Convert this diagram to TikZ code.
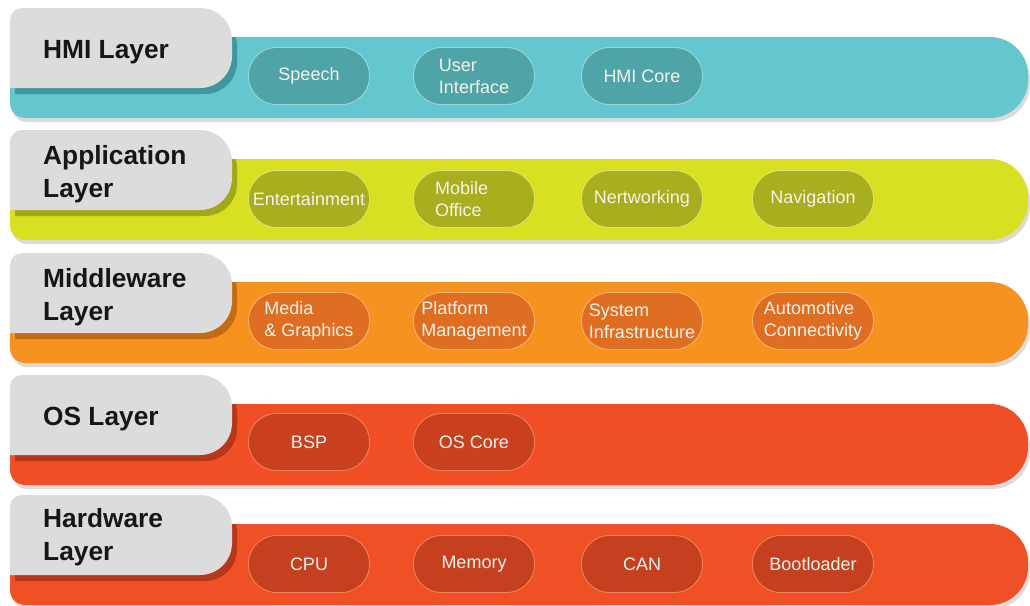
\documentclass[tikz,border=0pt]{standalone}
\usepackage{fontspec}
\setmainfont{Liberation Sans}

\definecolor{tabgray}{HTML}{DCDCDC}
\definecolor{titletext}{HTML}{161616}
\definecolor{pilltext}{HTML}{F4F4EC}
% HMI layer
\definecolor{hmiband}{HTML}{64C6CE}
\definecolor{hmipill}{HTML}{4FA4A8}
\definecolor{hmidark}{HTML}{3E979D}
\definecolor{hmiedge}{HTML}{98D6D8}
% Application layer
\definecolor{appband}{HTML}{D8E021}
\definecolor{apppill}{HTML}{A8AE1E}
\definecolor{appdark}{HTML}{A2A818}
\definecolor{appedge}{HTML}{DCE26A}
% Middleware layer
\definecolor{midband}{HTML}{F6921F}
\definecolor{midpill}{HTML}{E06E22}
\definecolor{middark}{HTML}{C26A14}
\definecolor{midedge}{HTML}{F7B266}
% OS layer
\definecolor{osband}{HTML}{F04E24}
\definecolor{ospill}{HTML}{C8401E}
\definecolor{osdark}{HTML}{B5381A}
\definecolor{osedge}{HTML}{F2805A}
% Hardware layer
\definecolor{hwband}{HTML}{F05026}
\definecolor{hwpill}{HTML}{C5401E}
\definecolor{hwdark}{HTML}{B3391A}
\definecolor{hwedge}{HTML}{F2805A}

\newcommand{\pillfont}{\fontsize{18}{22}\selectfont}
\newcommand{\titlefont}{\fontsize{26.3}{33}\selectfont\bfseries}

% coloured band of one layer, #1 = top of the grey tab
\newcommand{\bandshape}[1]{(25,#1+29) -- (990,#1+29)
  arc[start angle=270,end angle=360,radius=38] -- (1028,#1+72)
  arc[start angle=0,end angle=90,radius=38] -- (25,#1+110)
  arc[start angle=90,end angle=180,radius=15] -- (10,#1+44)
  arc[start angle=180,end angle=270,radius=15] -- cycle}
% grey title tab of one layer
\newcommand{\tabshape}[1]{(10,#1+80) -- (10,#1+12)
  arc[start angle=180,end angle=270,radius=12] -- (200,#1)
  arc[start angle=270,end angle=360,radius=32] -- (232,#1+48)
  arc[start angle=0,end angle=90,radius=32] -- cycle}

% band, tab shadow and tab: #1 top, #2 band colour, #3 shadow colour
\newcommand{\layerbase}[3]{%
  \fill[black!14, shift={(2,4)}] \bandshape{#1};
  \fill[#2] \bandshape{#1};
  \begin{scope}
    \clip \bandshape{#1};
    \fill[#3, shift={(5,6)}] \tabshape{#1};
  \end{scope}
  \fill[tabgray] \tabshape{#1};
}

\begin{document}
\begin{tikzpicture}[x=1pt,y=-1pt,
  title/.style={anchor=west, align=left, font=\titlefont, text=titletext, inner sep=0pt},
  pill/.style={line width=0.9pt, rounded corners=28pt, minimum width=121pt,
    minimum height=57pt, inner sep=1pt, text=pilltext, font=\pillfont, align=left}]
\useasboundingbox (0,0) rectangle (1030,605);
\clip (0,0) rectangle (1030,605);

% ---- HMI layer
\layerbase{8}{hmiband}{hmidark}
\node[title] (hmi) at (43,52) {HMI Layer};
\node[pill, fill=hmipill, draw=hmiedge] (speech) at (309,76) {Speech};
\node[pill, fill=hmipill, draw=hmiedge] (ui) at (474,76) {User\\Interface};
\node[pill, fill=hmipill, draw=hmiedge] (hmicore) at (642,76) {HMI Core};

% ---- Application layer
\layerbase{130}{appband}{appdark}
\node[title] (app) at (43,174) {Application\\Layer};
\node[pill, fill=apppill, draw=appedge] (ent) at (309,199) {Entertainment};
\node[pill, fill=apppill, draw=appedge, text width=78pt] (mobile) at (474,199) {Mobile\\Office};
\node[pill, fill=apppill, draw=appedge] (net) at (642,199) {Nertworking};
\node[pill, fill=apppill, draw=appedge] (nav) at (813,199) {Navigation};

% ---- Middleware layer
\layerbase{253}{midband}{middark}
\node[title] (mid) at (43,297) {Middleware\\Layer};
\node[pill, fill=midpill, draw=midedge] (media) at (309,321) {Media\\\& Graphics};
\node[pill, fill=midpill, draw=midedge] (platform) at (474,321) {Platform\\Management};
\node[pill, fill=midpill, draw=midedge] (sysinf) at (642,321) {System\\Infrastructure};
\node[pill, fill=midpill, draw=midedge] (auto) at (813,321) {Automotive\\Connectivity};

% ---- OS layer
\layerbase{375}{osband}{osdark}
\node[title] (os) at (43,419) {OS Layer};
\node[pill, fill=ospill, draw=osedge] (bsp) at (309,442) {BSP};
\node[pill, fill=ospill, draw=osedge] (oscore) at (474,442) {OS Core};

% ---- Hardware layer
\layerbase{495}{hwband}{hwdark}
\node[title] (hw) at (43,537) {Hardware\\Layer};
\node[pill, fill=hwpill, draw=hwedge] (cpu) at (309,564) {CPU};
\node[pill, fill=hwpill, draw=hwedge] (mem) at (474,564) {Memory};
\node[pill, fill=hwpill, draw=hwedge] (can) at (642,564) {CAN};
\node[pill, fill=hwpill, draw=hwedge] (boot) at (813,564) {Bootloader};
\end{tikzpicture}
\end{document}
